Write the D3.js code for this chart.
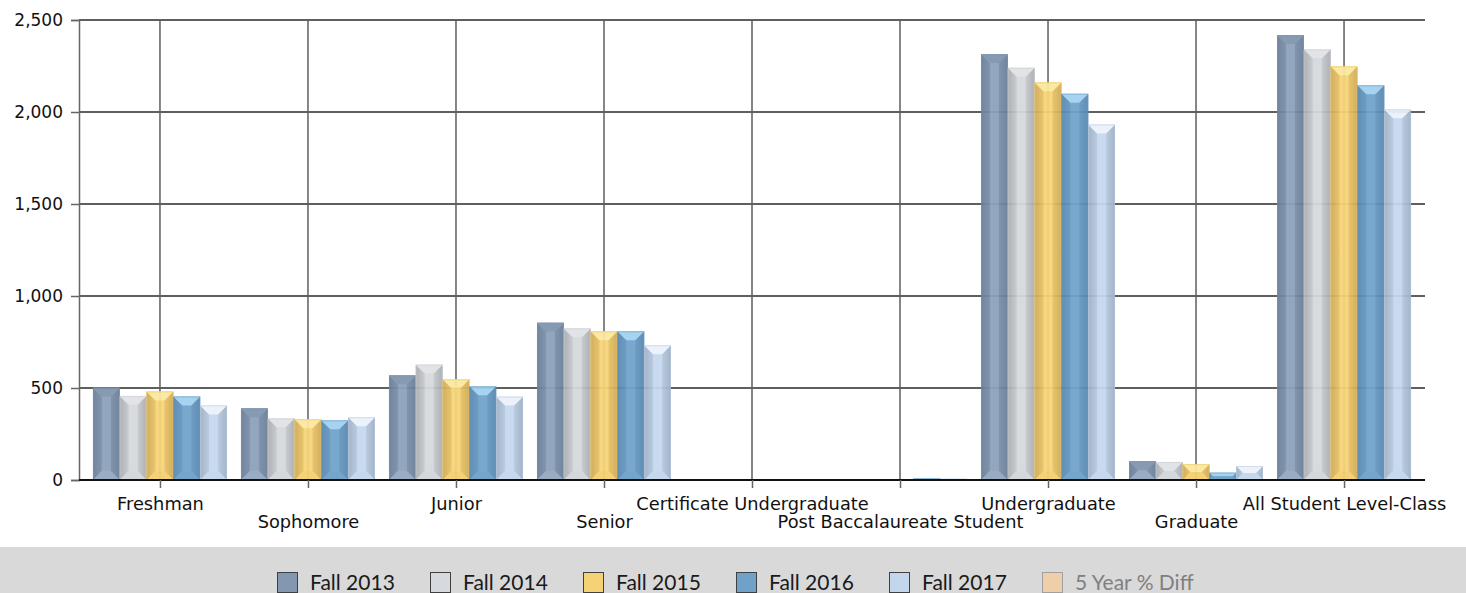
<!DOCTYPE html>
<html><head><meta charset="utf-8">
<script src="https://cdn.jsdelivr.net/npm/d3@7"></script>
<style>
html,body{margin:0;padding:0;background:#fff;}
svg{display:block;}
</style></head>
<body>
<script>
const categories = ["Freshman","Sophomore","Junior","Senior","Certificate Undergraduate","Post Baccalaureate Student","Undergraduate","Graduate","All Student Level-Class"];
const seriesNames = ["Fall 2013","Fall 2014","Fall 2015","Fall 2016","Fall 2017"];
const fall2013 = [502, 390, 569, 855, 0, 3, 2315, 103, 2418];
const fall2014 = [457, 335, 627, 824, 0, 2, 2240, 98, 2340];
const fall2015 = [481, 330, 547, 808, 0, 3, 2161, 86, 2248];
const fall2016 = [454, 324, 509, 808, 0, 9, 2099, 40, 2145];
const fall2017 = [405, 341, 453, 732, 2, 7, 1932, 76, 2014];
const yTicks = [0, 500, 1000, 1500, 2000, 2500];
const legendNames = ["Fall 2013","Fall 2014","Fall 2015","Fall 2016","Fall 2017","5 Year % Diff"];

const seriesValues = [fall2013, fall2014, fall2015, fall2016, fall2017];

// styles
const palette = [
  {swatch:"#8497b0", side:"#687d98", sideIn:"#7a8faa", center:"#8ca1ba", top:"#7f94ae", bottom:"#93a7bf"},
  {swatch:"#d6dadf", side:"#a9acb0", sideIn:"#c6c9cd", center:"#d6d9dd", top:"#e0e2e5", bottom:"#d2d5d9"},
  {swatch:"#f5d273", side:"#cfaa55", sideIn:"#e8c265", center:"#f6d476", top:"#fbe89e", bottom:"#f4d070"},
  {swatch:"#6fa1c9", side:"#5787b0", sideIn:"#6597c0", center:"#70a3cb", top:"#a0d1f0", bottom:"#6ca0c8"},
  {swatch:"#c4d6ec", side:"#9fb0c5", sideIn:"#b6c8de", center:"#c5d8ef", top:"#eaf2fc", bottom:"#c3d6ed"}
];
const legendSwatch = ["#8497b0","#d6dadf","#f5d273","#6fa1c9","#c4d6ec","#efcfa9"];

const W = 1466, H = 593;
const svg = d3.select("body").append("svg").attr("width", W).attr("height", H);

const plotL = 79, plotR = 1425, plotT = 20, plotB = 480;

const x = d3.scalePoint().domain(categories).range([plotL, plotR]).padding(0.547);
const groupW = 134;
const xs = d3.scaleBand().domain(d3.range(seriesValues.length)).range([-groupW/2, groupW/2]).padding(0);
const y = d3.scaleLinear().domain([0, 2500]).range([plotB, plotT]);

// gridlines
const grid = svg.append("g");
grid.selectAll("line.h").data(yTicks).join("line")
  .attr("x1", plotL).attr("x2", plotR)
  .attr("y1", d => y(d)).attr("y2", d => y(d))
  .attr("stroke", "#2a2a2a").attr("stroke-width", 1.5);
grid.selectAll("line.v").data(categories).join("line")
  .attr("x1", d => x(d)).attr("x2", d => x(d))
  .attr("y1", plotT).attr("y2", plotB)
  .attr("stroke", "#5e5e5e").attr("stroke-width", 1.5);

// defs gradients
const defs = svg.append("defs");
palette.forEach((p, i) => {
  const gl = defs.append("linearGradient").attr("id", "gl" + i).attr("x1", "0").attr("x2", "1").attr("y1", "0").attr("y2", "0");
  gl.append("stop").attr("offset", "0").attr("stop-color", p.side);
  gl.append("stop").attr("offset", "1").attr("stop-color", p.sideIn);
  const gr = defs.append("linearGradient").attr("id", "gr" + i).attr("x1", "0").attr("x2", "1").attr("y1", "0").attr("y2", "0");
  gr.append("stop").attr("offset", "0").attr("stop-color", p.sideIn);
  gr.append("stop").attr("offset", "1").attr("stop-color", p.side);
});

// bars
const bars = [];
categories.forEach((c, ci) => {
  seriesValues.forEach((vals, si) => {
    bars.push({c, si, v: vals[ci]});
  });
});

const barG = svg.append("g").attr("opacity", 0.94);
bars.forEach(d => {
  if (d.v <= 0) return;
  const bx = x(d.c) + xs(d.si);
  const bw = xs.bandwidth();
  const by = y(d.v);
  const bh = y(0) - y(d.v);
  const p = palette[d.si];
  const b = Math.min(9, bw / 3, bh / 2);
  const g = barG.append("g");
  const poly = pts => pts.map(q => q.join(",")).join(" ");
  g.append("rect").attr("x", bx).attr("y", by).attr("width", bw).attr("height", bh).attr("fill", p.center);
  g.append("polygon").attr("points", poly([[bx, by],[bx+b, by+b],[bx+b, by+bh-b],[bx, by+bh]])).attr("fill", `url(#gl${d.si})`);
  g.append("polygon").attr("points", poly([[bx+bw, by],[bx+bw-b, by+b],[bx+bw-b, by+bh-b],[bx+bw, by+bh]])).attr("fill", `url(#gr${d.si})`);
  g.append("polygon").attr("points", poly([[bx, by],[bx+bw, by],[bx+bw-b, by+b],[bx+b, by+b]])).attr("fill", p.top);
  g.append("polygon").attr("points", poly([[bx, by+bh],[bx+bw, by+bh],[bx+bw-b, by+bh-b],[bx+b, by+bh-b]])).attr("fill", p.bottom);
  g.append("rect").attr("x", bx+0.5).attr("y", by+0.5).attr("width", Math.max(0, bw-1)).attr("height", Math.max(0, bh-1))
    .attr("fill", "none").attr("stroke", p.sideIn).attr("stroke-opacity", 0.5).attr("stroke-width", 1);
});

// axes
const yAxis = d3.axisLeft(y).tickValues(yTicks).tickSize(8).tickPadding(8).tickFormat(d3.format(","));
const yg = svg.append("g").attr("transform", `translate(${plotL},0)`).call(yAxis);
yg.select(".domain").attr("stroke", "#666").attr("stroke-width", 1.5);
yg.selectAll(".tick line").attr("stroke", "#666").attr("stroke-width", 1.5);
yg.selectAll(".tick text").attr("font-family", "DejaVu Sans, Verdana, sans-serif").attr("font-size", 17).attr("fill", "#111");

const xAxis = d3.axisBottom(x).tickSize(8).tickPadding(6);
const xg = svg.append("g").attr("transform", `translate(0,${plotB})`).call(xAxis);
xg.select(".domain").attr("d", `M${plotL},0H${plotR}`).attr("stroke", "#111").attr("stroke-width", 2);
xg.selectAll(".tick line").attr("stroke", "#666").attr("stroke-width", 1.5);
xg.selectAll(".tick text")
  .attr("font-family", "DejaVu Sans, Verdana, sans-serif").attr("font-size", 17.8).attr("fill", "#111")
  .attr("dy", null)
  .attr("y", (d, i) => i % 2 === 0 ? 30 : 48);

// legend band
svg.append("rect").attr("x", 0).attr("y", 547).attr("width", W).attr("height", H - 547).attr("fill", "#d9d9d9");
const legendX = d3.scalePoint().domain(legendNames).range([277, 1042]);
const lg = svg.append("g");
legendNames.forEach((n, i) => {
  const lx = legendX(n);
  lg.append("rect").attr("x", lx + 0.5).attr("y", 572.5).attr("width", 20).attr("height", 20)
    .attr("fill", legendSwatch[i]).attr("stroke", i === 5 ? "#a0a0a0" : "#404040").attr("stroke-width", 1);
  lg.append("text").attr("x", lx + 33).attr("y", 590).text(n)
    .attr("font-family", "Lato, Open Sans, sans-serif").attr("font-size", 21)
    .attr("fill", i === 5 ? "#808080" : "#1a1a1a");
});
</script>
</body></html>
